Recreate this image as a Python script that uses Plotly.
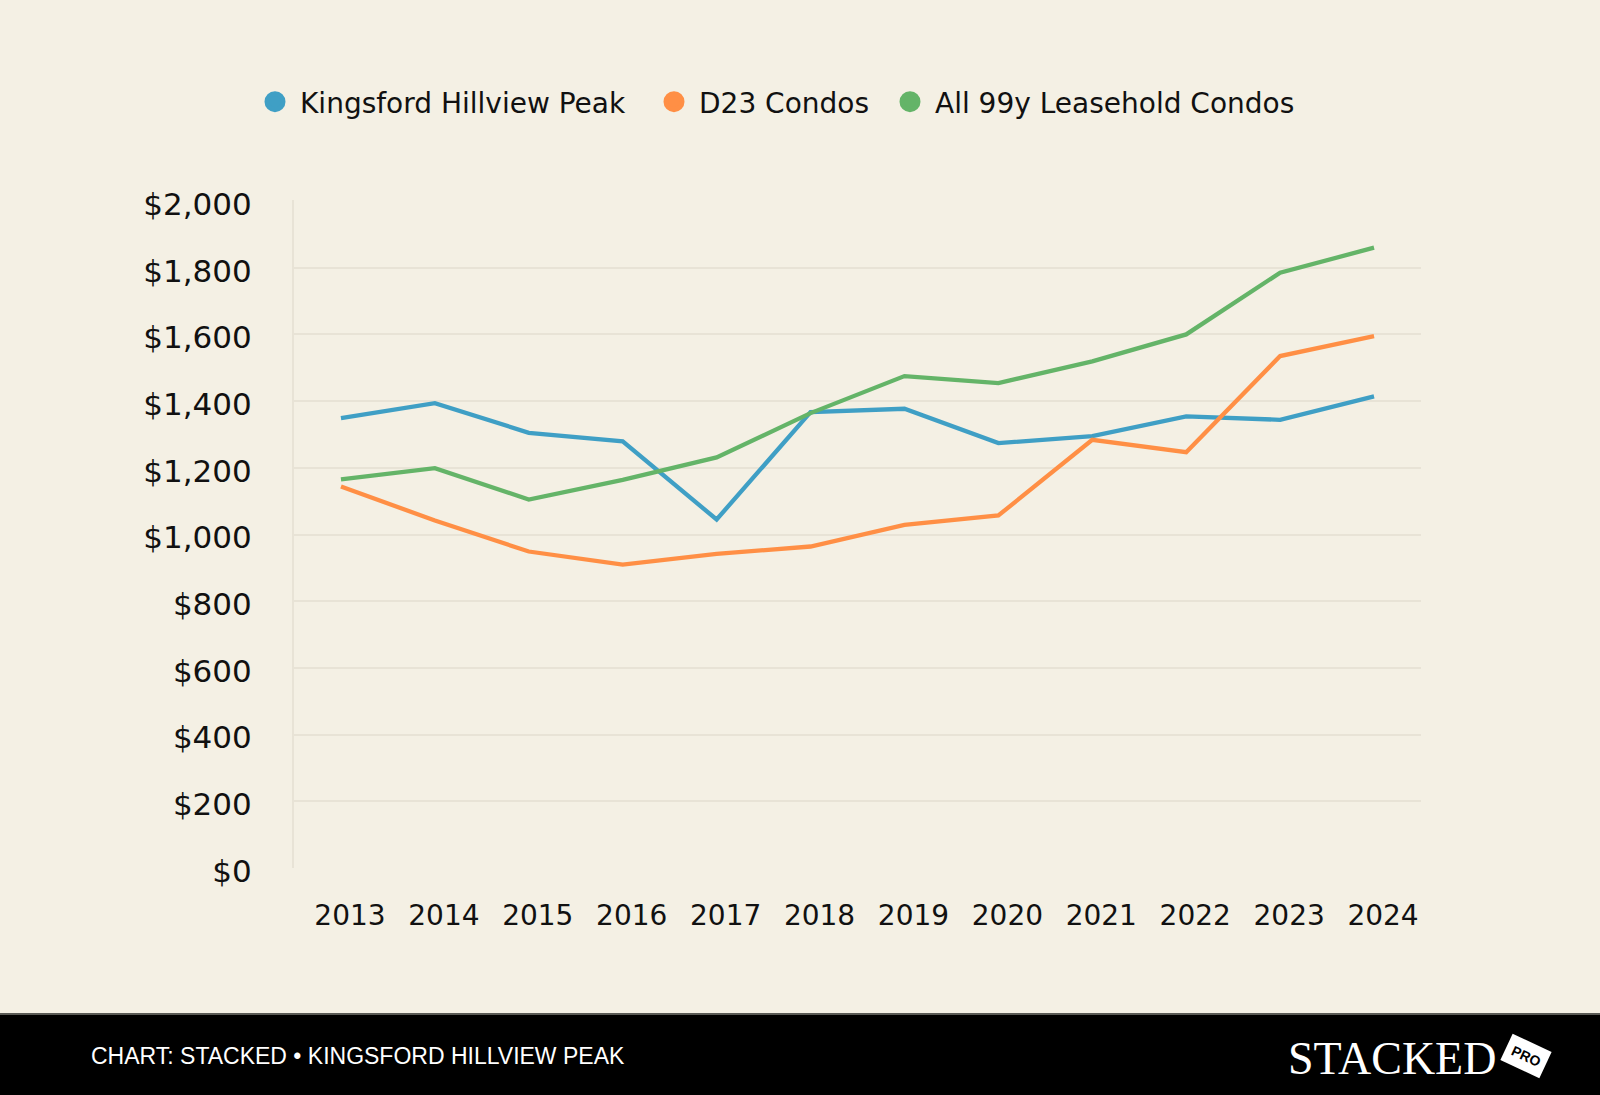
import plotly.graph_objects as go

# Dados (preço psf por ano)
anos = ["2013", "2014", "2015", "2016", "2017", "2018",
        "2019", "2020", "2021", "2022", "2023", "2024"]
kingsford = [1349, 1394, 1305, 1279, 1045, 1367, 1377, 1274, 1295, 1354, 1344, 1414]
d23 = [1144, 1042, 949, 910, 942, 964, 1029, 1057, 1284, 1247, 1535, 1595]
leasehold_99y = [1165, 1199, 1105, 1164, 1231, 1364, 1475, 1454, 1519, 1600, 1785, 1860]

y_ticks = [0, 200, 400, 600, 800, 1000, 1200, 1400, 1600, 1800, 2000]
y_labels = ["$0", "$200", "$400", "$600", "$800", "$1,000",
            "$1,200", "$1,400", "$1,600", "$1,800", "$2,000"]

nomes = ["Kingsford Hillview Peak", "D23 Condos", "All 99y Leasehold Condos"]
cores = ["#3f9fc5", "#ff8f45", "#64b468"]
series = [kingsford, d23, leasehold_99y]

fonte = "DejaVu Sans"
bg = "#f4f0e4"
grid = "#e8e3d6"

fig = go.Figure()

legend_ids = ["legend", "legend2", "legend3"]
for nome, cor, vals, lg in zip(nomes, cores, series, legend_ids):
    fig.add_trace(go.Scatter(
        x=anos, y=vals, mode="lines", name=nome,
        line=dict(color=cor, width=4.3), showlegend=False,
    ))
    # entrada de legenda com bolinha
    fig.add_trace(go.Scatter(
        x=[None], y=[None], mode="markers", name=nome,
        marker=dict(color=cor, size=16, line=dict(color=cor, width=5)),
        legend=lg,
    ))

leg_base = dict(
    orientation="h", xref="container", yref="container",
    xanchor="left", yanchor="middle", y=1 - 102 / 1095,
    font=dict(family=fonte, size=28, color="#111111"),
    bgcolor="rgba(0,0,0,0)", itemsizing="trace", itemwidth=40,
)
leg_x = [272, 671, 907]

fig.update_layout(
    width=1600, height=1095,
    paper_bgcolor=bg, plot_bgcolor=bg,
    margin=dict(l=294, r=179, t=200, b=227),
    font=dict(family=fonte, size=29, color="#111111"),
    showlegend=True,
    legend=dict(leg_base, x=(leg_x[0] - 22) / 1600),
    legend2=dict(leg_base, x=(leg_x[1] - 22) / 1600),
    legend3=dict(leg_base, x=(leg_x[2] - 22) / 1600),
)

fig.update_xaxes(
    type="category", range=[-0.5, 11.5],
    showgrid=False, zeroline=False, showline=False,
    ticks="", ticklabelstandoff=28, ticklabelshift=9,
    tickfont=dict(family=fonte, size=28, color="#111111"),
)
fig.update_yaxes(
    range=[0, 2003], tickvals=y_ticks, ticktext=y_labels,
    showgrid=True, gridcolor=grid, gridwidth=2,
    zeroline=False, showline=True, linecolor=grid, linewidth=2,
    ticks="", ticklabelstandoff=34, ticklabelshift=3,
    tickfont=dict(family=fonte, size=31, color="#111111"),
)

# Rodapé preto
pw, ph = 1127, 668
def px(x):
    return (x - 294) / pw
def py(y):
    return (868 - y) / ph

fig.add_shape(type="rect", xref="paper", yref="paper",
              x0=px(-10), x1=px(1610), y0=py(1110), y1=py(1014),
              fillcolor="#000000", line=dict(width=0), layer="above")
fig.add_shape(type="line", xref="paper", yref="paper",
              x0=px(-10), x1=px(1610), y0=py(1014), y1=py(1014),
              line=dict(color="#5a5a55", width=2), layer="above")

fig.add_annotation(
    xref="paper", yref="paper", x=px(89), y=py(1056),
    xanchor="left", yanchor="middle", showarrow=False,
    text="CHART: STACKED • KINGSFORD HILLVIEW PEAK",
    font=dict(family="Liberation Sans", size=23, color="#ffffff"),
)
fig.add_annotation(
    xref="paper", yref="paper", x=px(1392), y=py(1058),
    xanchor="center", yanchor="middle", showarrow=False,
    text="STACKED",
    font=dict(family="Liberation Serif", size=46, color="#ffffff"),
)
fig.add_annotation(
    xref="paper", yref="paper", x=px(1526), y=py(1056),
    xanchor="center", yanchor="middle", showarrow=False,
    text="<b>PRO</b>", textangle=25,
    font=dict(family="Liberation Sans", size=14, color="#000000"),
    bgcolor="#ffffff", borderpad=6,
)

fig.write_html("out.html", config={"displayModeBar": False},
               post_script="document.body.style.margin='0';")
